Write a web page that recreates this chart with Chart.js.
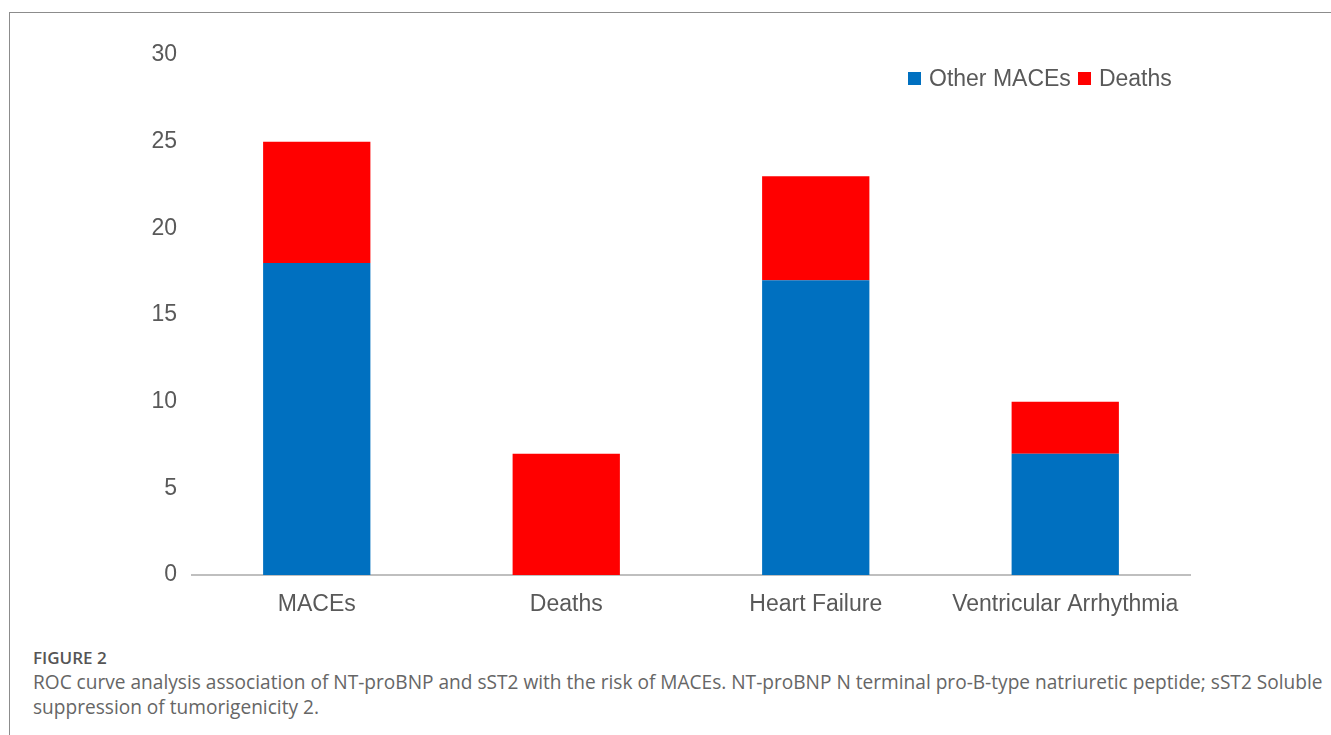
<!DOCTYPE html>
<html>
<head>
<meta charset="utf-8">
<script src="https://cdn.jsdelivr.net/npm/chart.js@4.4.1/dist/chart.umd.min.js"></script>
<style>
  html, body { margin: 0; padding: 0; background: #fff; }
  body { width: 1331px; height: 735px; position: relative; overflow: hidden; }
  #frameTop { position: absolute; left: 9px; top: 12px; width: 1322px; height: 1px; background: #8c8c8c; }
  #frameLeft { position: absolute; left: 9px; top: 12px; width: 1px; height: 723px; background: #8c8c8c; }
  #wrap { position: absolute; left: 0; top: 0; width: 1331px; height: 640px; }
  #legend { position: absolute; left: 908px; top: 65px; font-family: "Liberation Sans", Arial, sans-serif; font-size: 23px; color: #595959; white-space: nowrap; }
  #legend span.item { display: inline-block; margin-right: 7px; }
  #legend span.box { display: inline-block; width: 13px; height: 13px; margin-right: 8px; vertical-align: 1px; }
  #caption { position: absolute; left: 33px; top: 646px; width: 1298px; font-family: "Open Sans", "Noto Sans", sans-serif; color: #666; white-space: nowrap; }
  #caption .fig { font-size: 17px; font-weight: 600; color: #555; line-height: 24px; }
  #caption .txt { font-size: 19.1px; line-height: 25px; font-weight: 400; }
</style>
</head>
<body>
<div id="frameTop"></div>
<div id="frameLeft"></div>
<div id="wrap"><canvas id="c"></canvas></div>
<div id="legend"></div>
<div id="caption">
  <div class="fig">FIGURE 2</div>
  <div class="txt">ROC curve analysis association of NT-proBNP and sST2 with the risk of MACEs. NT-proBNP N terminal pro-B-type natriuretic peptide; sST2 Soluble<br>suppression of tumorigenicity 2.</div>
</div>
<script>
const categories = ["MACEs", "Deaths", "Heart Failure", "Ventricular Arrhythmia"];
const otherMACEs = [18, 0, 17, 7];
const deaths = [7, 7, 6, 3];
const seriesNames = ["Other MACEs", "Deaths"];
const seriesColors = ["#0070C0", "#FF0000"];
const yTicks = [0, 5, 10, 15, 20, 25, 30];

const font = { family: '"Liberation Sans", Arial, sans-serif', size: 23 };

const chart = new Chart(document.getElementById('c'), {
  type: 'bar',
  data: {
    labels: categories,
    datasets: [
      { label: seriesNames[0], data: otherMACEs, backgroundColor: seriesColors[0], borderWidth: 0 },
      { label: seriesNames[1], data: deaths, backgroundColor: seriesColors[1], borderWidth: 0 }
    ]
  },
  options: {
    responsive: true,
    maintainAspectRatio: false,
    animation: false,
    layout: { padding: { left: 100, right: 141, top: 55, bottom: 15 } },
    datasets: { bar: { barPercentage: 0.43, categoryPercentage: 1.0 } },
    plugins: { legend: { display: false }, tooltip: { enabled: false } },
    scales: {
      x: {
        stacked: true,
        grid: { display: false, drawTicks: false },
        border: { display: true, color: '#bfbfbf', width: 2 },
        ticks: { color: '#595959', font: font, padding: 16, maxRotation: 0, autoSkip: false },
        afterFit: (s) => { s.height = 50; }
      },
      y: {
        stacked: true,
        min: yTicks[0],
        max: yTicks[yTicks.length - 1],
        grid: { display: false, drawTicks: false },
        border: { display: false },
        ticks: { color: '#595959', font: font, padding: 15, stepSize: 5 },
        afterBuildTicks: (s) => { s.ticks = yTicks.map(v => ({ value: v })); },
        afterFit: (s) => { s.width = 92; }
      }
    }
  }
});

// HTML legend built from the chart's datasets
const lg = document.getElementById('legend');
chart.data.datasets.forEach(ds => {
  const it = document.createElement('span');
  it.className = 'item';
  const b = document.createElement('span');
  b.className = 'box';
  b.style.background = ds.backgroundColor;
  it.appendChild(b);
  it.appendChild(document.createTextNode(ds.label));
  lg.appendChild(it);
});
</script>
</body>
</html>
